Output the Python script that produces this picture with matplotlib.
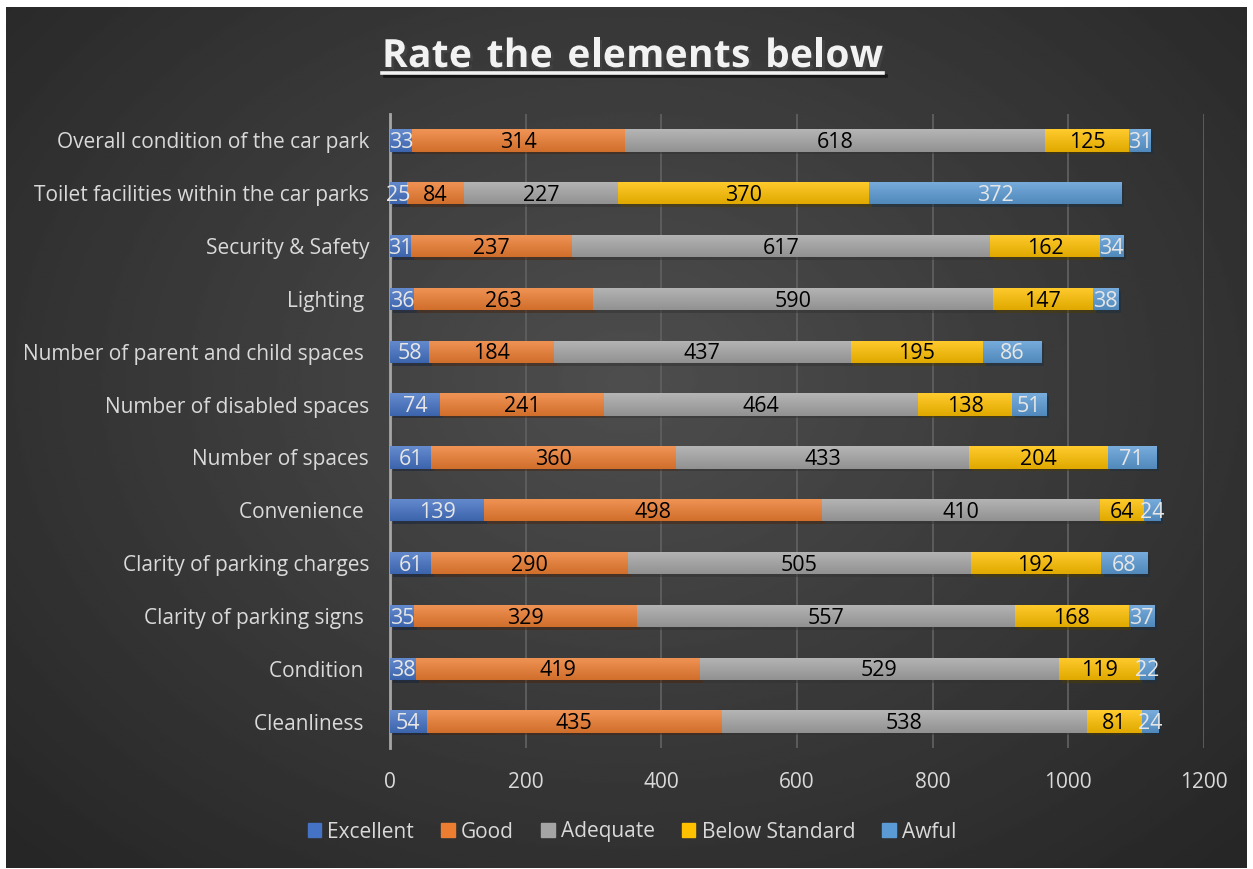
import numpy as np
import matplotlib; matplotlib.use("Agg")
import matplotlib.pyplot as plt
import matplotlib.colors as mcolors
import matplotlib.patheffects as pe
from matplotlib.lines import Line2D

plt.rcParams["font.family"] = ["Open Sans", "DejaVu Sans"]

CATEGORIES = ["Cleanliness ", "Condition ", "Clarity of parking signs ", "Clarity of parking charges",
              "Convenience ", "Number of spaces", "Number of disabled spaces",
              "Number of parent and child spaces ", "Lighting ", "Security & Safety",
              "Toilet facilities within the car parks", "Overall condition of the car park"]
SERIES = ["Excellent", "Good", "Adequate", "Below Standard", "Awful"]
excellent = [54, 38, 35, 61, 139, 61, 74, 58, 36, 31, 25, 33]
good      = [435, 419, 329, 290, 498, 360, 241, 184, 263, 237, 84, 314]
adequate  = [538, 529, 557, 505, 410, 433, 464, 437, 590, 617, 227, 618]
below     = [81, 119, 168, 192, 64, 204, 138, 195, 147, 162, 370, 125]
awful     = [24, 22, 37, 68, 24, 71, 51, 86, 38, 34, 372, 31]
VALUES = [excellent, good, adequate, below, awful]
COLORS = ["#4472C4", "#ED7D31", "#A5A5A5", "#FFC000", "#5B9BD5"]
LABEL_COLORS = ["#e6e6e6", "black", "black", "black", "#e6e6e6"]
XTICKS = [0, 200, 400, 600, 800, 1000, 1200]
TITLE = "Rate the elements below"

W, H = 1253, 869
fig = plt.figure(figsize=(W / 100, H / 100), dpi=100)
fig.patch.set_facecolor("white")

# dark radial background (with thin white border like the source)
bg = fig.add_axes([6 / W, 1 / H, 1241 / W, 861 / H])
yy, xx = np.mgrid[0:300, 0:430]
d = np.sqrt(((xx - 215) / 300.0) ** 2 + ((yy - 130) / 230.0) ** 2)
shade = np.clip(0.305 - 0.155 * d, 0.15, 0.305)
bg.imshow(shade, cmap="gray", vmin=0, vmax=1, aspect="auto", extent=[0, 1, 0, 1])
bg.set_axis_off()

ax = fig.add_axes([390 / W, 1 - 748 / H, 814 / W, 634 / H])
ax.set_facecolor("none")
ypos = np.arange(len(CATEGORIES))
left = np.zeros(len(CATEGORIES))
bar_h = 0.42
for vals, name, col, lcol in zip(VALUES, SERIES, COLORS, LABEL_COLORS):
    v = np.array(vals, dtype=float)
    bars = ax.barh(ypos, v, left=left, height=bar_h, color=col, label=name, zorder=3,
                   path_effects=[pe.SimplePatchShadow(offset=(2, -2), alpha=0.5), pe.Normal()])
    base = np.array(mcolors.to_rgb(col))
    top = base + (1 - base) * 0.18
    bot = base * 0.88
    grad = np.linspace(0, 1, 64)[:, None, None] * (bot - top) + top
    for b in bars:
        x0, y0 = b.get_x(), b.get_y()
        im = ax.imshow(grad, extent=[x0, x0 + b.get_width(), y0, y0 + b.get_height()],
                       origin="upper", aspect="auto", zorder=3.5, interpolation="bilinear")
        im.set_clip_path(b)
    labs = ax.bar_label(bars, labels=[str(int(x)) for x in v], label_type="center",
                        color=lcol, fontsize=15.5, zorder=5)
    for t in labs:
        t.xyann = (0, -1.5)
    left += v

ax.set_xlim(0, 1200)
ax.set_ylim(-0.5, len(CATEGORIES) - 0.5)
ax.set_xticks(XTICKS)
ax.set_xticklabels([str(t) for t in XTICKS])
ax.set_yticks(ypos)
ax.set_yticklabels(CATEGORIES)
ax.tick_params(axis="both", length=0, colors="#d9d9d9", labelsize=15)
ax.tick_params(axis="x", pad=17)
ax.tick_params(axis="y", pad=15)
ax.grid(axis="x", color="#5f5f5f", lw=1.3, zorder=0)
for s in ["top", "right", "bottom"]:
    ax.spines[s].set_visible(False)
ax.spines["left"].set_color("#a6a6a6")
ax.spines["left"].set_linewidth(2)
ax.spines["left"].set_zorder(2)

handles = [plt.Rectangle((0, 0), 1, 1, color=c) for c in COLORS]
leg = fig.legend(handles, SERIES, loc="center", bbox_to_anchor=(632 / W, 1 - 832 / H), ncol=5,
                 frameon=False, fontsize=15, handlelength=0.65, handleheight=0.65,
                 handletextpad=0.3, columnspacing=1.3)
for t in leg.get_texts():
    t.set_color("#d9d9d9")

# title with letter spacing, drawn char by char
fig.canvas.draw()
renderer = fig.canvas.get_renderer()
tkw = dict(fontsize=28, fontweight="bold", color="#f2f2f2", va="baseline", ha="left",
           path_effects=[pe.withSimplePatchShadow(offset=(2, -2), alpha=0.6)])
x_left, x_right, base_y = 382, 883, H - 67
probe = [fig.text(0, 0, c if c != " " else "n", **tkw) for c in TITLE]
widths = [t.get_window_extent(renderer).width for t in probe]
widths = [w * (0.55 if c == " " else 1.0) for w, c in zip(widths, TITLE)]
for t in probe:
    t.remove()
track = (x_right - x_left - sum(widths)) / (len(TITLE) - 1)
x = x_left
for c, w in zip(TITLE, widths):
    if c != " ":
        fig.text(x / W, base_y / H, c, **tkw)
    x += w + track
uy = 1 - 73 / H
fig.add_artist(Line2D([x_left / W, x_right / W], [uy, uy], color="#f2f2f2", lw=2.6,
                      path_effects=[pe.SimpleLineShadow(offset=(2, -2), alpha=0.6), pe.Normal()]))

fig.savefig("out.png", dpi=100, facecolor=fig.get_facecolor())
